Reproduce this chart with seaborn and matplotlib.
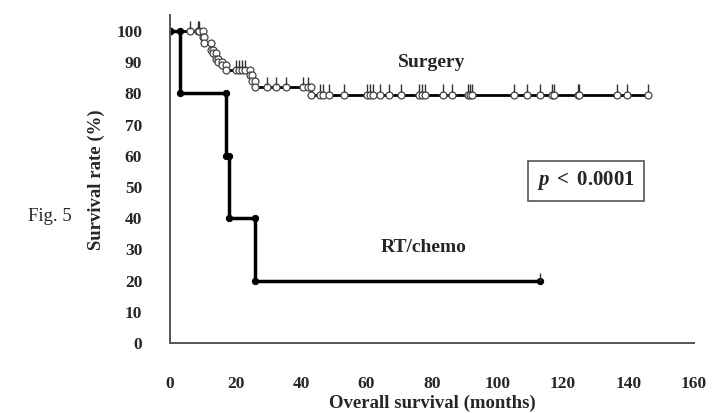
import pandas as pd
import matplotlib.pyplot as plt
import seaborn as sns

# Data (months, survival %)
rt_event_times = [3, 17, 18, 26]
rt_event_surv = [80, 60, 40, 20]
rt_censor_times = [113]

surg_event_times = [10, 10.5, 12.5, 13, 14, 14.5, 16, 17, 24.5, 25, 26, 43]
surg_event_surv = [98, 96, 94, 93, 91, 90, 89, 87.5, 86, 84, 82, 79.5]
surg_censor_times = [6, 8.5, 9, 20, 21, 22, 23, 29.5, 32.5, 35.5, 40.5, 42,
                     45.7, 46.6, 48.4, 53, 60, 61, 62, 64, 67, 70.5, 76, 77, 78,
                     83.5, 86, 91, 91.7, 92.3, 105, 109, 113, 116.5, 117.2,
                     124.5, 125, 136.5, 139.5, 146]

x_ticks = [0, 20, 40, 60, 80, 100, 120, 140, 160]
y_ticks = [0, 10, 20, 30, 40, 50, 60, 70, 80, 90, 100]


def step_vertices(ev_t, ev_s, cens_t):
    """Kaplan-Meier style step path with a vertex at every event/censor."""
    items = [(t, "e", s) for t, s in zip(ev_t, ev_s)] + [(t, "c", None) for t in cens_t]
    items.sort(key=lambda r: r[0])
    xs, ys = [0], [100]
    cx, cy = [], []
    cur = 100
    for t, kind, s in items:
        if kind == "e":
            xs += [t, t]
            ys += [cur, s]
            cur = s
        else:
            xs.append(t)
            ys.append(cur)
            cx.append(t)
            cy.append(cur)
    return pd.DataFrame({"time": xs, "surv": ys}), cx, cy


rt_df, rt_cx, rt_cy = step_vertices(rt_event_times, rt_event_surv, rt_censor_times)
sg_df, sg_cx, sg_cy = step_vertices(surg_event_times, surg_event_surv, surg_censor_times)

sns.set_theme(style="white")
plt.rcParams["font.family"] = ["Liberation Serif", "DejaVu Serif"]
plt.rcParams["mathtext.fontset"] = "custom"
plt.rcParams["mathtext.rm"] = "Liberation Serif"
plt.rcParams["mathtext.it"] = "Liberation Serif:italic"
plt.rcParams["mathtext.bf"] = "Liberation Serif:bold"
plt.rcParams["mathtext.bfit"] = "Liberation Serif:italic:bold"

fig = plt.figure(figsize=(7.12, 4.13), dpi=100)
ax = fig.add_axes([0.2388, 0.1695, 0.7359, 0.7932])

# Surgery
sns.lineplot(data=sg_df, x="time", y="surv", sort=False, estimator=None, ax=ax,
             color="black", linewidth=2.0, marker="o", markersize=5,
             markerfacecolor="white", markeredgecolor="#444444", markeredgewidth=0.9)
ax.plot(sg_cx, [v + 0.8 for v in sg_cy], linestyle="none", marker=2,
        markersize=6, markeredgewidth=1.0, color="#333333")

# RT/chemo
sns.lineplot(data=rt_df, x="time", y="surv", sort=False, estimator=None, ax=ax,
             color="black", linewidth=2.5, marker="o", markersize=4.5,
             markerfacecolor="black", markeredgecolor="black")
ax.plot(rt_cx, rt_cy, linestyle="none", marker=2, markersize=6,
        markeredgewidth=1.0, color="#333333")

ax.set_xlim(0, 160)
ax.set_ylim(0, 105)
ax.set_xticks(x_ticks)
ax.set_yticks(y_ticks)
ax.set_xticklabels([str(v) for v in x_ticks], fontsize=12.5, fontweight="bold")
ax.set_yticklabels([str(v) for v in y_ticks], fontsize=12.5, fontweight="bold")
ax.tick_params(axis="x", direction="in", length=5, width=1, pad=24, color="#555555")
ax.tick_params(axis="y", direction="in", length=5, width=1, pad=20, color="#555555")

for side in ["top", "right"]:
    ax.spines[side].set_visible(False)
for side in ["left", "bottom"]:
    ax.spines[side].set_color("#555555")
    ax.spines[side].set_linewidth(1.4)

ax.set_xlabel("Overall survival (months)", fontsize=13.5, fontweight="bold", labelpad=2)
ax.set_ylabel("Survival rate (%)", fontsize=13.5, fontweight="bold", labelpad=8)

ax.text(80, 90, "Surgery", ha="center", va="center", fontsize=14, fontweight="bold")
ax.text(77.5, 30.5, "RT/chemo", ha="center", va="center", fontsize=14, fontweight="bold")
ax.text(127, 52, r"$\bfit{p}\ \mathbf{<\ 0.0001}$", ha="center", va="center",
        fontsize=15, bbox=dict(boxstyle="square,pad=0.42", facecolor="white",
                               edgecolor="#555555", linewidth=1.2))

fig.text(0.07, 0.475, "Fig. 5", ha="center", va="center", fontsize=13.5)

fig.savefig("out.png", dpi=100)
plt.close(fig)
